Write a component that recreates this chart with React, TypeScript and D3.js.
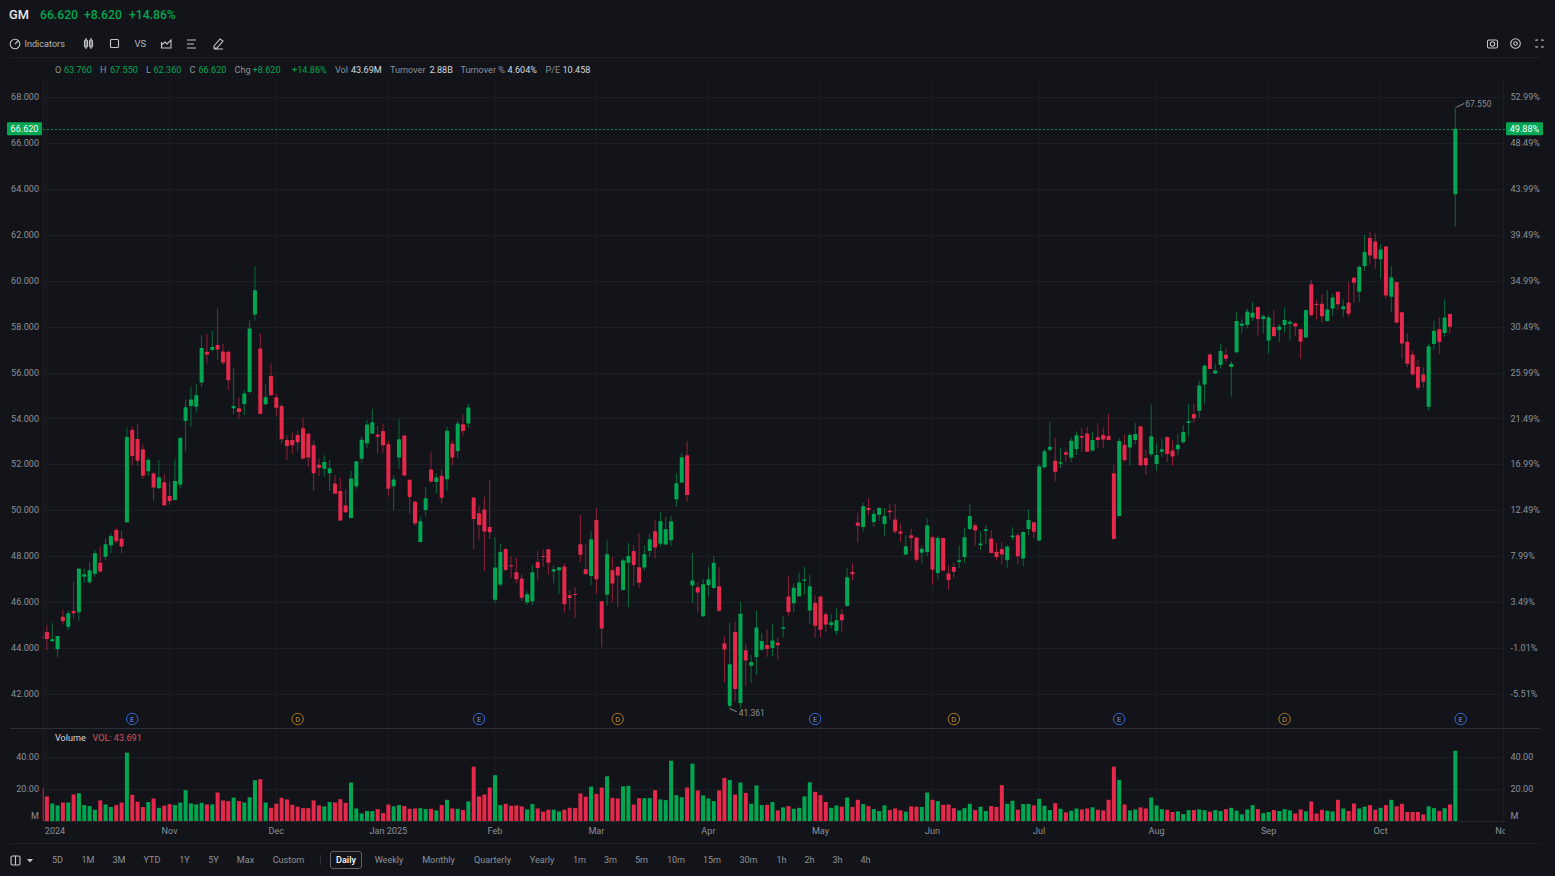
import React, { useEffect, useRef } from "react";
import * as d3 from "d3";

// first entry is the candle cut off by the left edge
const opens = [
  44.52,
  44.70,44.30,43.95,45.36,44.93,45.62,45.56,47.11,46.87,47.24,
  47.72,47.98,48.48,49.14,48.77,49.48,53.50,53.11,52.66,51.70,
  51.60,50.96,51.22,50.62,50.45,51.12,53.89,54.54,54.51,55.57,
  56.91,56.98,57.20,56.92,56.91,54.44,54.44,54.63,55.15,58.53,
  57.05,54.62,55.85,54.92,
  54.54,53.06,53.06,53.28,53.57,53.33,52.83,51.98,51.81,51.61,
  51.17,50.84,50.21,49.66,51.05,52.24,52.91,53.35,53.30,53.45,
  52.88,51.05,52.30,53.26,51.33,50.37,48.62,50.01,51.78,51.23,
  51.50,51.35,52.90,52.58,53.75,53.78,50.56,49.87,50.04,49.27,
  46.10,46.77,48.31,
  47.61,47.30,47.03,45.98,46.04,47.75,48.01,48.30,47.33,47.39,
  47.55,46.30,46.36,48.52,47.43,47.14,49.58,46.04,46.32,47.39,
  47.53,46.53,47.72,48.23,47.52,47.51,48.23,49.09,48.54,48.51,
  48.70,50.48,51.21,52.40,46.72,46.65,45.39,46.74,46.62,46.69,
  44.21,
  41.49,44.70,41.61,43.91,43.23,43.61,43.93,44.13,44.0,44.23,
  44.84,46.25,45.95,46.26,46.93,45.64,45.96,46.25,45.47,45.0,
  44.74,45.47,45.83,47.31,49.47,49.27,50.10,49.49,49.81,49.40,
  49.98,49.60,49.08,48.08,48.91,48.82,48.15,48.18,48.83,47.27,
  48.79,47.25,47.53,47.75,
  47.97,49.19,49.35,48.48,49.10,48.77,48.20,48.32,47.82,48.83,
  48.91,47.90,49.19,49.48,48.69,51.87,52.64,52.16,52.03,52.53,
  52.29,52.67,53.24,53.34,52.60,53.18,53.28,53.24,51.61,49.75,
  52.85,52.73,53.06,53.66,52.28,52.44,52.02,52.55,53.19,52.61,
  52.66,52.96,53.80,
  54.19,54.34,55.48,56.79,55.96,56.33,56.78,56.24,56.88,58.04,
  58.07,58.40,58.85,58.33,57.39,57.98,57.85,58.07,58.13,58.15,
  57.88,57.53,59.85,58.98,59.0,58.24,58.79,59.52,58.76,59.05,
  60.13,59.52,60.64,61.86,61.71,60.93,61.49,59.30,59.94,58.63,
  57.34,56.79,56.25,55.92,54.51,57.24,57.89,57.72,58.55,
  63.76,
];

const highs = [
  44.6,
  45.01,45.08,44.53,45.69,45.63,46.88,47.47,47.47,47.75,48.27,
  48.42,48.77,49.0,49.26,49.11,53.61,53.64,53.76,52.87,52.31,
  51.68,52.19,51.58,51.26,52.22,53.21,54.83,55.36,55.50,57.63,
  57.68,57.82,58.78,57.24,56.95,56.20,54.92,55.24,58.29,60.64,
  57.71,55.50,56.40,55.07,
  54.65,53.28,53.38,53.49,54.04,53.35,53.03,52.26,52.40,52.19,
  51.52,51.43,50.92,51.72,52.16,53.20,53.93,54.42,53.67,53.78,
  53.03,51.53,53.96,53.28,51.34,50.42,49.72,51.0,52.52,51.61,
  51.78,53.64,53.03,53.90,54.18,54.63,50.58,50.21,50.59,51.32,
  48.83,48.56,48.34,
  48.01,47.93,47.22,46.48,47.62,48.25,48.30,48.33,47.61,47.52,
  47.69,46.53,46.65,49.80,48.54,49.09,50.10,46.06,48.68,47.96,
  47.58,47.91,48.57,48.48,49.0,48.48,49.0,49.58,49.93,49.70,
  49.76,51.61,52.48,53.01,48.13,46.88,47.0,47.52,48.01,47.52,
  44.5,
  45.10,45.16,46.03,44.20,43.70,45.63,44.64,44.81,45.03,44.45,
  45.41,47.16,46.82,47.28,47.54,47.19,46.29,46.27,45.57,45.48,
  45.73,45.70,47.47,47.69,49.89,50.33,50.53,49.98,50.15,50.10,
  50.27,50.27,49.43,48.91,49.20,48.84,48.44,49.66,48.91,48.88,
  48.82,47.60,47.73,48.47,
  49.22,50.28,49.43,49.07,49.36,49.14,48.59,48.62,48.48,49.26,
  49.0,49.09,50.04,49.51,52.02,52.66,53.85,53.15,52.74,52.66,
  53.18,53.44,53.59,53.64,53.41,53.79,53.61,54.20,51.99,53.15,
  53.30,53.38,53.82,53.67,52.63,54.60,52.92,53.11,53.21,53.03,
  53.32,53.70,54.63,
  54.63,55.64,56.37,56.83,56.40,57.27,57.05,56.50,58.63,58.32,
  58.79,59.08,58.87,58.53,58.50,58.72,58.11,58.82,58.29,58.17,
  57.91,58.75,60.03,59.19,59.42,59.59,59.42,59.54,59.19,59.94,
  60.17,60.67,62.0,62.15,62.06,61.60,61.51,60.64,59.95,58.65,
  57.71,56.95,56.57,56.23,57.27,58.26,58.40,59.19,58.57,
  67.55,
];

const lows = [
  44.3,
  43.92,44.27,43.60,45.02,44.79,45.28,45.20,46.85,46.79,47.11,
  47.29,47.84,48.13,48.56,48.13,49.46,51.96,51.93,51.36,51.50,
  50.42,50.94,50.19,50.25,50.45,50.96,52.57,53.64,54.25,55.38,
  56.40,56.92,56.57,56.34,55.24,54.19,53.99,54.15,55.07,58.26,
  54.17,54.57,55.0,54.11,
  52.91,52.19,52.45,52.55,52.21,51.90,50.85,51.49,51.46,50.85,
  50.71,49.53,49.87,49.65,50.94,52.07,52.69,53.30,52.48,52.51,
  50.59,50.01,51.81,51.49,49.87,49.34,48.59,49.76,51.19,50.71,
  50.30,50.85,51.97,52.27,53.25,53.61,48.31,48.70,47.35,48.76,
  45.97,46.70,47.34,
  47.04,46.82,46.05,45.88,45.88,46.97,47.52,47.20,46.82,46.36,
  45.55,45.66,45.31,47.75,47.17,46.74,46.36,44.04,45.84,46.01,
  45.78,46.50,45.78,46.68,46.61,47.38,47.98,47.90,48.42,48.48,
  48.45,50.16,51.18,50.37,45.98,45.55,45.36,46.24,46.59,45.59,
  42.50,
  41.361,41.68,41.39,42.36,42.49,42.84,43.88,43.62,43.65,43.51,
  44.47,45.42,45.57,46.24,46.35,45.07,44.45,44.45,44.67,44.86,
  44.57,44.70,45.80,46.96,48.59,49.08,49.79,49.28,49.54,48.88,
  49.60,48.99,48.62,48.04,48.22,47.75,47.69,48.01,46.76,46.99,
  47.34,46.54,47.05,47.48,
  47.72,49.14,48.46,48.27,48.52,48.13,47.81,47.66,47.49,48.71,
  47.66,47.58,48.94,48.80,48.67,51.81,52.55,51.26,51.84,52.11,
  52.11,52.41,52.54,52.55,52.57,52.74,52.71,53.03,48.74,49.72,
  52.11,51.93,52.89,51.93,51.54,52.34,51.74,52.34,52.11,51.93,
  52.40,52.92,53.21,
  53.82,54.02,54.66,56.14,55.93,56.17,56.47,54.95,56.83,57.71,
  57.92,58.26,57.59,57.71,56.83,57.56,57.33,57.73,57.39,57.59,
  56.60,57.49,58.46,58.31,58.17,58.21,58.46,58.72,58.43,58.43,
  59.04,59.08,60.43,60.72,60.52,60.10,59.21,58.65,58.14,56.62,
  56.23,55.88,55.21,55.34,54.34,56.98,56.81,57.56,57.68,
  62.36,
];

const closes = [
  44.42,
  44.40,44.38,44.53,45.18,45.52,45.52,47.45,47.21,47.39,48.13,
  47.33,48.52,48.88,48.66,48.42,53.19,52.37,52.16,51.51,52.19,
  50.99,51.44,50.22,50.41,51.28,53.15,54.49,54.83,55.01,57.07,
  56.79,57.11,57.00,56.44,55.66,54.54,54.28,55.09,57.92,59.58,
  54.21,54.92,55.01,54.47,
  53.09,52.80,52.83,52.96,52.26,52.30,51.61,51.85,52.10,51.83,
  50.72,49.56,49.91,51.39,52.14,53.07,53.74,53.84,53.20,52.83,
  50.94,51.34,53.09,51.52,50.58,49.43,49.52,50.53,51.26,51.43,
  50.55,53.46,52.30,53.78,53.45,54.48,49.62,49.36,49.08,49.04,
  47.51,48.18,47.40,
  47.55,47.0,46.19,46.34,47.30,47.49,47.97,47.72,47.43,47.52,
  45.91,46.18,46.32,48.06,47.23,48.74,47.0,44.85,48.09,46.81,
  47.16,47.83,48.01,47.62,46.84,48.09,48.74,48.38,49.52,49.17,
  49.52,51.18,52.31,50.67,46.94,46.42,46.78,47.0,47.72,45.63,
  43.94,
  43.30,42.22,45.50,43.46,43.39,44.90,44.31,43.96,44.33,44.12,
  44.91,45.57,46.63,46.86,46.99,46.69,44.97,44.80,45.03,45.13,
  45.21,45.21,47.08,47.22,49.33,50.18,50.01,49.85,50.10,49.75,
  49.92,49.08,48.98,48.43,48.79,47.85,48.33,49.34,47.41,48.79,
  47.38,46.96,47.32,47.83,
  48.83,49.75,49.12,48.55,49.17,48.14,47.97,48.07,48.42,48.90,
  48.0,49.06,49.58,49.07,51.92,52.57,52.77,51.68,52.09,52.42,
  53.03,53.27,53.16,52.55,53.06,53.06,53.08,53.06,48.75,53.02,
  52.19,53.28,53.32,51.96,51.96,53.22,52.41,52.66,52.45,52.34,
  52.85,53.41,53.88,
  54.0,55.44,56.30,56.15,56.09,56.94,56.60,56.38,58.24,58.14,
  58.66,58.60,58.33,58.45,58.40,57.59,58.01,58.29,58.21,58.01,
  57.34,58.72,58.49,58.94,58.45,58.75,59.27,58.97,58.89,58.56,
  59.91,60.61,61.25,61.10,60.96,61.36,59.35,60.14,58.18,57.26,
  56.38,55.91,55.34,55.60,57.15,57.82,57.33,58.40,57.99,
  66.62,
];

const volumes = [
  20.2,
  15.3,10.9,9.7,11.5,11.5,16.5,17.3,9.9,9.3,7.0,
  12.8,10.3,8.7,9.9,11.5,42.5,16.3,12.0,8.7,11.8,
  14.0,8.2,9.5,10.5,9.9,11.5,19.2,10.9,10.3,11.3,
  10.3,10.3,17.7,12.8,12.4,14.6,12.4,11.5,14.8,25.4,
  26.0,11.5,8.2,10.7,14.4,13.4,10.1,8.9,8.0,8.0,
  12.8,9.7,9.1,11.8,11.5,13.6,11.3,23.9,7.8,4.7,
  6.2,6.2,7.4,4.9,10.3,9.1,9.9,9.3,7.6,7.8,
  8.0,7.4,7.6,6.6,9.9,13.2,7.8,7.6,6.8,12.2,
  33.8,15.3,16.5,20.8,28.5,9.9,10.7,9.5,9.7,9.1,
  7.2,10.5,7.8,5.8,7.0,7.0,6.0,7.0,8.2,8.0,
  17.1,15.1,21.4,16.9,20.8,27.8,14.4,14.0,21.6,21.9,
  10.3,14.2,14.2,14.2,19.2,13.4,13.0,37.5,16.1,14.8,
  20.8,35.7,19.0,15.9,14.0,12.4,19.0,26.8,25.6,16.5,
  23.9,17.5,10.7,22.1,9.9,10.1,11.8,6.6,8.5,9.3,
  7.6,8.2,15.3,24.1,18.1,16.1,11.8,8.2,9.7,8.9,
  14.6,8.7,13.2,10.5,9.3,7.4,6.2,9.7,6.8,7.8,
  6.6,5.8,9.1,8.9,8.7,17.7,13.2,12.4,10.1,10.3,
  8.0,6.6,8.0,10.7,6.8,8.9,6.2,9.3,8.7,22.3,
  10.7,12.6,7.0,10.5,10.7,9.7,13.8,9.5,6.8,11.1,
  7.6,5.4,6.4,7.8,7.2,7.8,8.5,7.0,6.6,13.2,
  33.8,25.6,10.3,6.6,7.2,8.5,7.8,14.6,9.7,7.4,
  7.0,5.6,6.0,4.3,6.8,6.8,7.2,6.8,5.8,6.8,
  6.2,7.4,8.2,6.4,4.1,7.2,9.9,7.4,4.9,5.6,
  6.8,6.2,7.4,6.6,4.7,7.2,6.0,12.2,4.7,7.0,
  6.4,6.0,13.2,7.8,6.2,10.9,7.8,8.9,9.9,7.0,
  8.2,9.9,13.2,9.1,10.7,5.6,5.6,5.6,4.1,9.1,
  8.0,6.2,8.0,10.3,43.691,
];

const priceTicks = [68, 66, 64, 62, 60, 58, 56, 54, 52, 50, 48, 46, 44, 42];
const percentTicks = ["52.99%", "48.49%", "43.99%", "39.49%", "34.99%", "30.49%", "25.99%", "21.49%", "16.99%", "12.49%", "7.99%", "3.49%", "-1.01%", "-5.51%"];
const volumeTicks = [40, 20];

// index into the candle arrays where each month starts
const monthLabels = ["2024", "Nov", "Dec", "Jan 2025", "Feb", "Mar", "Apr", "May", "Jun", "Jul", "Aug", "Sep", "Oct", "Nov"];
const monthIndex = [1, 24, 44, 65, 85, 104, 125, 146, 167, 187, 209, 230, 251, 274];

const eventKinds = ["E", "D", "E", "D", "E", "D", "E", "D", "E"];
const eventIndex = [17, 48, 82, 108, 145, 171, 202, 233, 266];

const statLabels = ["O", "H", "L", "C", "Chg", "Vol", "Turnover", "Turnover %", "P/E"];
const statValues = ["63.760", "67.550", "62.360", "66.620", "+8.620", "43.69M", "2.88B", "4.604%", "10.458"];
const statLabelX = [55, 100, 146, 189.5, 234.5, 335, 390, 460.5, 545.5];
const statValueX = [64, 110, 153.5, 198.5, 252.5, 351, 429.5, 507.5, 562.5];

const rangeButtons = ["5D", "1M", "3M", "YTD", "1Y", "5Y", "Max", "Custom", "Daily", "Weekly", "Monthly", "Quarterly", "Yearly", "1m", "3m", "5m", "10m", "15m", "30m", "1h", "2h", "3h", "4h"];
const rangeButtonX = [57.5, 88, 119, 152, 184.5, 213.5, 245.5, 288.5, 346, 389, 438.5, 492.5, 542, 579.5, 610.5, 641.5, 676, 712, 748.5, 781.5, 809.5, 837.5, 865.5];

const BG = "#121419";
const GRID = "#1b1e24";
const UP = "#00a651";
const DOWN = "#e5284b";
const MUTED = "#8c9199";
const LIGHT = "#d6d8dc";
const FONT = "Roboto, sans-serif";
const SIZE = 9.1;

const App: React.FC = () => {
  const svgRef = useRef<SVGSVGElement | null>(null);

  useEffect(() => {
    if (!svgRef.current) return;
    const svg = d3.select(svgRef.current);
    svg.selectAll("*").remove();

    const indexes = d3.range(opens.length);
    const x = d3.scaleLinear().domain([1, 265]).range([46.9, 1455.3]);
    const y = d3.scaleLinear().domain([42, 68]).range([694, 97]);
    const yVol = d3.scaleLinear().domain([0, 40]).range([821, 756.7]);

    const text = (
      str: string,
      px: number,
      py: number,
      fill = MUTED,
      size = SIZE,
      anchor = "start",
      weight = 400
    ) =>
      svg
        .append("text")
        .attr("x", px)
        .attr("y", py + 0.7)
        .attr("fill", fill)
        .attr("font-size", size)
        .attr("font-family", FONT)
        .attr("font-weight", weight)
        .attr("text-anchor", anchor)
        .attr("dominant-baseline", "middle")
        .text(str);

    svg.append("rect").attr("width", 1555).attr("height", 876).attr("fill", BG);

    const defs = svg.append("defs");
    defs.append("clipPath").attr("id", "plot").append("rect").attr("x", 42.7).attr("y", 80).attr("width", 1462).attr("height", 750);
    defs.append("clipPath").attr("id", "axisClip").append("rect").attr("x", 10).attr("y", 822).attr("width", 1495).attr("height", 18);

    // grid
    const grid = svg.append("g").attr("stroke", GRID).attr("stroke-width", 1);
    grid
      .selectAll("line.h")
      .data(priceTicks)
      .join("line")
      .attr("x1", 43)
      .attr("x2", 1505)
      .attr("y1", (d) => Math.round(y(d)) + 0.5)
      .attr("y2", (d) => Math.round(y(d)) + 0.5);
    grid
      .selectAll("line.v")
      .data(volumeTicks)
      .join("line")
      .attr("x1", 43)
      .attr("x2", 1505)
      .attr("y1", (d) => Math.round(yVol(d)) + 0.5)
      .attr("y2", (d) => Math.round(yVol(d)) + 0.5);
    monthIndex.slice(0, 13).forEach((m) => {
      grid.append("line").attr("x1", x(m)).attr("x2", x(m)).attr("y1", 80).attr("y2", 728);
      grid.append("line").attr("x1", x(m)).attr("x2", x(m)).attr("y1", 730).attr("y2", 821);
    });
    grid.append("line").attr("x1", 1503.5).attr("x2", 1503.5).attr("y1", 80).attr("y2", 821);
    grid.append("line").attr("x1", 43.5).attr("x2", 43.5).attr("y1", 80).attr("y2", 821);

    // frame lines
    const frame = svg.append("g").attr("stroke", "#1d2026");
    frame.append("line").attr("x1", 10).attr("x2", 1540).attr("y1", 57.5).attr("y2", 57.5);
    frame.append("line").attr("x1", 10).attr("x2", 1540).attr("y1", 843.5).attr("y2", 843.5);
    svg.append("line").attr("x1", 10).attr("x2", 1540).attr("y1", 728.5).attr("y2", 728.5).attr("stroke", "#2b2f37");
    svg.append("line").attr("x1", 43).attr("x2", 1505).attr("y1", 821.5).attr("y2", 821.5).attr("stroke", "#23262d");

    const colour = (i: number) => (closes[i] >= opens[i] ? UP : DOWN);

    const plot = svg.append("g").attr("clip-path", "url(#plot)");

    // wicks
    plot
      .append("g")
      .selectAll("line")
      .data(indexes)
      .join("line")
      .attr("x1", (i) => x(i))
      .attr("x2", (i) => x(i))
      .attr("y1", (i) => y(highs[i]))
      .attr("y2", (i) => y(lows[i]))
      .attr("stroke", (i) => colour(i))
      .attr("stroke-opacity", 0.6)
      .attr("stroke-width", 1);

    // bodies
    plot
      .append("g")
      .selectAll("rect")
      .data(indexes)
      .join("rect")
      .attr("x", (i) => x(i) - 2)
      .attr("width", 4)
      .attr("y", (i) => y(Math.max(opens[i], closes[i])))
      .attr("height", (i) => Math.max(1, Math.abs(y(opens[i]) - y(closes[i]))))
      .attr("rx", 0.5)
      .attr("fill", (i) => colour(i));

    // volume bars
    plot
      .append("g")
      .selectAll("rect")
      .data(indexes)
      .join("rect")
      .attr("x", (i) => x(i) - 2)
      .attr("width", 4)
      .attr("y", (i) => yVol(volumes[i]))
      .attr("height", (i) => yVol(0) - yVol(volumes[i]))
      .attr("fill", (i) => colour(i));

    // last price line
    const last = closes[closes.length - 1];
    svg
      .append("line")
      .attr("x1", 43)
      .attr("x2", 1505)
      .attr("y1", Math.round(y(last)) + 0.5)
      .attr("y2", Math.round(y(last)) + 0.5)
      .attr("stroke", UP)
      .attr("stroke-opacity", 0.8)
      .attr("stroke-dasharray", "2 2");

    // price axes
    priceTicks.forEach((d, i) => {
      text(d.toFixed(3), 39, y(d), MUTED, SIZE, "end");
      text(percentTicks[i], 1510.5, y(d));
    });
    svg.append("rect").attr("x", 7).attr("y", y(last) - 6.5).attr("width", 35).attr("height", 13).attr("fill", UP).attr("rx", 1);
    text("66.620", 24.5, y(last), "#fff", SIZE, "middle");
    svg.append("rect").attr("x", 1506).attr("y", y(last) - 6.5).attr("width", 37).attr("height", 13).attr("fill", UP).attr("rx", 1);
    text("49.88%", 1524.5, y(last), "#fff", SIZE, "middle");

    // high / low callouts
    const hiX = x(265);
    svg.append("path").attr("d", `M${hiX + 1},${y(67.55)}L${hiX + 9},${y(67.55) - 4}`).attr("stroke", MUTED).attr("fill", "none");
    text("67.550", hiX + 10, y(67.55) - 3, MUTED, 8.5);
    const loX = x(129);
    svg.append("path").attr("d", `M${loX},${y(41.361)}L${loX + 7},${y(41.361) + 3}`).attr("stroke", MUTED).attr("fill", "none");
    text("41.361", loX + 9, y(41.361) + 4, MUTED, 8.5);

    // event markers
    eventKinds.forEach((k, i) => {
      const c = k === "E" ? "#3568d4" : "#a9791c";
      svg.append("circle").attr("cx", x(eventIndex[i])).attr("cy", 719).attr("r", 5.7).attr("fill", "none").attr("stroke", c).attr("stroke-width", 1);
      text(k, x(eventIndex[i]), 719, k === "E" ? "#6d93e2" : "#c2922f", 7.5, "middle");
    });

    // volume axes
    volumeTicks.forEach((d) => {
      text(d.toFixed(2), 39, yVol(d), MUTED, SIZE, "end");
      text(d.toFixed(2), 1510.5, yVol(d));
    });
    text("M", 39, 815.5, MUTED, SIZE, "end");
    text("M", 1510.5, 815.5);
    text("Volume", 55, 738, LIGHT);
    text("VOL: 43.691", 92.5, 738, "#d2545c");

    // month labels
    const months = svg.append("g").attr("clip-path", "url(#axisClip)");
    monthLabels.forEach((m, i) => {
      months
        .append("text")
        .attr("x", i === 0 ? 55 : x(monthIndex[i]))
        .attr("y", 831.5)
        .attr("fill", MUTED)
        .attr("font-size", SIZE)
        .attr("font-family", FONT)
        .attr("text-anchor", "middle")
        .attr("dominant-baseline", "middle")
        .text(m);
    });

    // header
    text("GM", 9, 15, "#e8e9eb", 12.8, "start", 500);
    text("66.620", 40, 15, UP, 12.2, "start", 500);
    text("+8.620", 84, 15, UP, 12.2, "start", 500);
    text("+14.86%", 129, 15, UP, 12.2, "start", 500);

    // toolbar icons
    const icons = svg.append("g").attr("fill", "none").attr("stroke", "#c3c6cb").attr("stroke-width", 1.1);
    icons.append("circle").attr("cx", 15).attr("cy", 44).attr("r", 4.8);
    icons.append("path").attr("d", "M15,44L18,41");
    text("Indicators", 24.5, 43.5, "#b4b7bd");
    icons.append("rect").attr("x", 84.5).attr("y", 40).attr("width", 3).attr("height", 7).attr("rx", 1);
    icons.append("rect").attr("x", 89.5).attr("y", 40).attr("width", 3).attr("height", 7).attr("rx", 1);
    icons.append("path").attr("d", "M86,38V49M91,38V49");
    icons.append("rect").attr("x", 110.5).attr("y", 39.5).attr("width", 8).attr("height", 8).attr("rx", 1);
    text("VS", 134.5, 43.5, "#b4b7bd", 9.5);
    icons.append("path").attr("d", "M161.5,42V48H171V40L167,44L165,42L161.5,45");
    icons.append("path").attr("d", "M187,40H196M187,44H194M187,48H196");
    icons.append("path").attr("d", "M214,46L220,39L223,41L217,48H214ZM214,49H223");
    icons.append("rect").attr("x", 1487.5).attr("y", 40).attr("width", 10).attr("height", 8).attr("rx", 1.5);
    icons.append("circle").attr("cx", 1492.5).attr("cy", 44).attr("r", 2.2);
    icons.append("circle").attr("cx", 1515.5).attr("cy", 43.5).attr("r", 4.8);
    icons.append("circle").attr("cx", 1515.5).attr("cy", 43.5).attr("r", 1.8);
    icons.append("path").attr("d", "M1536,41V40H1538M1543,41V40H1541M1536,46V47H1538M1543,46V47H1541");

    // OHLC row
    statLabels.forEach((s, i) => {
      text(s, statLabelX[i], 70);
      const green = i < 5;
      text(statValues[i], statValueX[i], 70, green ? UP : LIGHT);
    });
    text("+14.86%", 292, 70, UP);

    // bottom bar
    icons.append("rect").attr("x", 11).attr("y", 856).attr("width", 9).attr("height", 9).attr("rx", 1.5);
    icons.append("path").attr("d", "M15.5,856V865");
    svg.append("path").attr("d", "M27,859H33L30,862.5Z").attr("fill", "#c3c6cb");
    svg.append("line").attr("x1", 320.5).attr("x2", 320.5).attr("y1", 855).attr("y2", 865).attr("stroke", "#2b2f37");
    svg.append("rect").attr("x", 330.5).attr("y", 851.5).attr("width", 31).attr("height", 17).attr("rx", 2.5).attr("fill", "none").attr("stroke", "#5d626b");
    rangeButtons.forEach((b, i) => {
      const active = b === "Daily";
      text(b, rangeButtonX[i], 860, active ? "#ffffff" : MUTED, SIZE, "middle", active ? 500 : 400);
    });
  }, []);

  return (
    <svg
      ref={svgRef}
      width={1555}
      height={876}
      style={{ position: "fixed", left: 0, top: 0, display: "block" }}
    ></svg>
  );
};

export default App;
